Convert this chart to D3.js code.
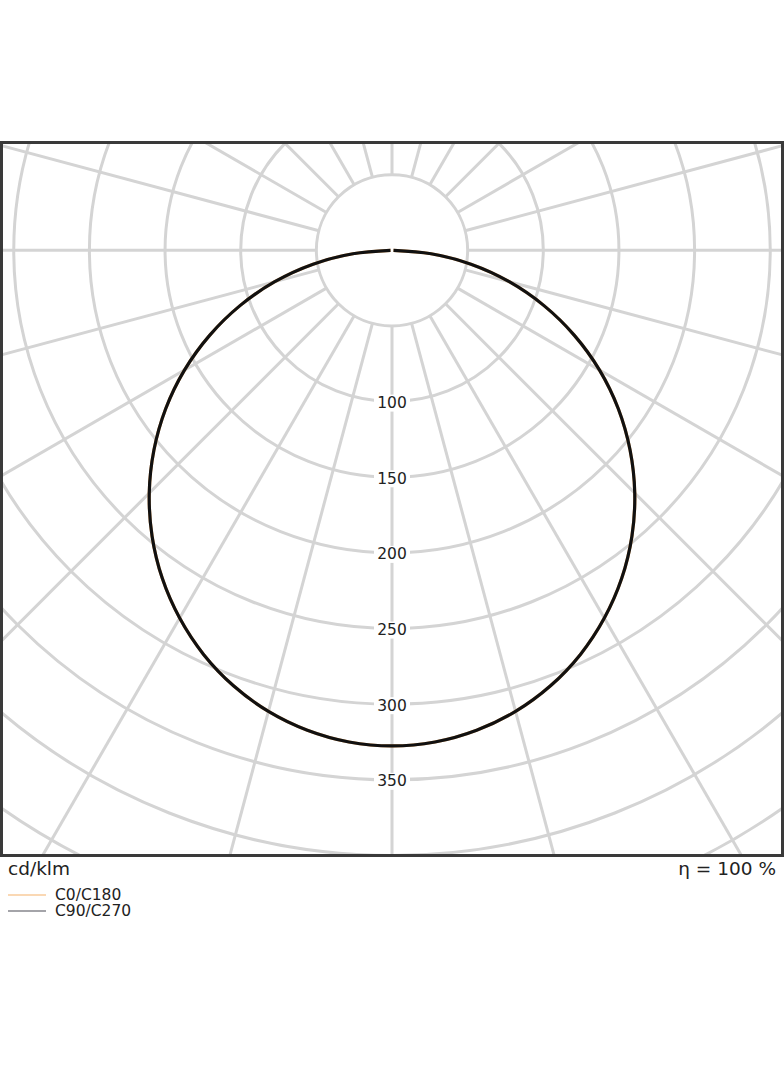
<!DOCTYPE html>
<html>
<head>
<meta charset="utf-8">
<script src="https://cdn.jsdelivr.net/npm/d3@7"></script>
<style>
  html, body { margin: 0; padding: 0; background: #fff; }
  svg { display: block; font-family: "DejaVu Sans", sans-serif; }
</style>
</head>
<body>
<div id="ldc-div"></div>
<script>
// gamma angles (deg from nadir) and intensities in cd/klm
const ldcGammas = [0, 5, 10, 15, 20, 25, 30, 35, 40, 45, 50, 55, 60, 65, 70, 75, 80, 85, 90];
const ldcC0C180 = [327.6, 326.2, 322.1, 315.5, 306.3, 294.7, 280.7, 264.7, 246.7, 226.9, 205.4, 182.6, 158.4, 133, 106.9, 80.2, 53, 25.9, 1];
const ldcC90C270 = [327.6, 326.2, 322.1, 315.5, 306.3, 294.7, 280.7, 264.7, 246.7, 226.9, 205.4, 182.6, 158.4, 133, 106.9, 80.2, 53, 25.9, 1];

const ldcRings = [50, 100, 150, 200, 250, 300, 350, 400, 450];
const ldcRingLabels = [100, 150, 200, 250, 300, 350];
const ldcSpokes = d3.range(0, 360, 15);
const ldcSeries = ['C0/C180', 'C90/C270'];
const ldcColors = ['#f6b26b', '#111111'];
const ldcUnit = 'cd/klm';
const ldcEta = 'η = 100 %';

const ldcWidth = 784;
const ldcHeight = 1066;
const ldcFrame = {left: 1.5, top: 142.5, right: 782.5, bottom: 855.5};
const ldcCenter = {x: 392, y: 250.3};

const svg = d3.select("#ldc-div")
    .append("svg")
        .attr("width", ldcWidth)
        .attr("height", ldcHeight);

svg.append("defs").append("clipPath")
    .attr("id", "ldc-clip")
    .append("rect")
        .attr("x", ldcFrame.left)
        .attr("y", ldcFrame.top)
        .attr("width", ldcFrame.right - ldcFrame.left)
        .attr("height", ldcFrame.bottom - ldcFrame.top);

// radius scale, cd/klm -> px
const r = d3.scaleLinear().domain([0, 400]).range([0, 605.2]);

const plot = svg.append("g").attr("clip-path", "url(#ldc-clip)");
const g = plot.append("g")
    .attr("transform", `translate(${ldcCenter.x},${ldcCenter.y})`);

// grid circles
g.append("g")
    .selectAll("circle")
    .data(ldcRings)
    .join("circle")
        .attr("r", d => r(d))
        .attr("fill", "none")
        .attr("stroke", "#d4d4d4")
        .attr("stroke-width", 3);

// spokes, starting at the first ring
g.append("g")
    .selectAll("line")
    .data(ldcSpokes)
    .join("line")
        .attr("x1", d => r(50) * Math.sin(d * Math.PI / 180))
        .attr("y1", d => r(50) * Math.cos(d * Math.PI / 180))
        .attr("x2", d => r(700) * Math.sin(d * Math.PI / 180))
        .attr("y2", d => r(700) * Math.cos(d * Math.PI / 180))
        .attr("stroke", "#d4d4d4")
        .attr("stroke-width", 3);

// ring labels with white backing
const lbl = g.append("g")
    .selectAll("g")
    .data(ldcRingLabels)
    .join("g")
        .attr("transform", d => `translate(0,${r(d) + 1.5})`);
lbl.append("rect")
    .attr("x", -18)
    .attr("y", -8.5)
    .attr("width", 36)
    .attr("height", 17)
    .attr("fill", "#fff");
lbl.append("text")
    .attr("text-anchor", "middle")
    .attr("dominant-baseline", "central")
    .attr("font-size", 15.5)
    .attr("fill", "#222")
    .text(d => d);

// curves: mirror each half-plane
function ldcPoints(vals) {
    const pts = [];
    for (let i = ldcGammas.length - 1; i >= 0; i--) pts.push({a: -ldcGammas[i], v: vals[i]});
    for (let i = 1; i < ldcGammas.length; i++) pts.push({a: ldcGammas[i], v: vals[i]});
    return pts;
}
const ldcLine = d3.lineRadial()
    .angle(d => Math.PI - d.a * Math.PI / 180)
    .radius(d => r(d.v))
    .curve(d3.curveCatmullRom);

[ldcC0C180, ldcC90C270].forEach((vals, i) => {
    g.append("path")
        .attr("fill", "none")
        .attr("stroke", ldcColors[i])
        .attr("stroke-width", 3.2)
        .attr("d", ldcLine(ldcPoints(vals)));
});

// frame
svg.append("rect")
    .attr("x", ldcFrame.left)
    .attr("y", ldcFrame.top)
    .attr("width", ldcFrame.right - ldcFrame.left)
    .attr("height", ldcFrame.bottom - ldcFrame.top)
    .attr("fill", "none")
    .attr("stroke", "#3a3a3a")
    .attr("stroke-width", 3);

svg.append("text")
    .attr("x", 8)
    .attr("y", 875)
    .attr("font-size", 18.5)
    .attr("fill", "#222")
    .text(ldcUnit);
svg.append("text")
    .attr("x", 776)
    .attr("y", 875)
    .attr("text-anchor", "end")
    .attr("font-size", 18.5)
    .attr("fill", "#222")
    .text(ldcEta);

// legend
const leg = svg.append("g")
    .selectAll("g")
    .data(ldcSeries)
    .join("g")
        .attr("transform", (d, i) => `translate(8,${895 + i * 16})`);
leg.append("line")
    .attr("x1", 0)
    .attr("x2", 38)
    .attr("stroke", (d, i) => i === 0 ? ldcColors[0] : "#4a4a55")
    .attr("stroke-width", 1.2);
leg.append("text")
    .attr("x", 47)
    .attr("dominant-baseline", "central")
    .attr("font-size", 15.5)
    .attr("fill", "#222")
    .text(d => d);
</script>
</body>
</html>
